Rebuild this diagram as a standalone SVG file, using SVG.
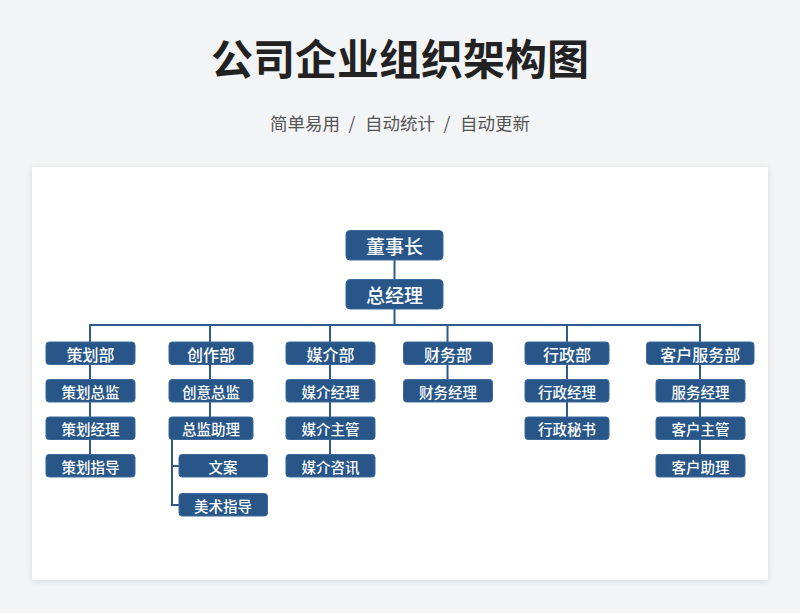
<svg xmlns="http://www.w3.org/2000/svg" width="800" height="613" viewBox="0 0 800 613">
<defs>
<style>
.bg{fill:#f3f4f6}
.card{fill:#ffffff}
.node rect{fill:#285688;stroke:#3d6a9c;stroke-width:1}
.node text{fill:#ffffff;font-family:"Noto Sans CJK SC","Noto Sans",sans-serif;font-weight:500;text-anchor:middle;dominant-baseline:central}
.t1 text{font-size:19px}
.t2 text{font-size:16px}
.t3 text{font-size:14.5px}
.conn{fill:none;stroke:#2e5b8c;stroke-width:2}
.title{font-family:"Noto Sans CJK SC",sans-serif;font-weight:700;font-size:42px;fill:#222222;text-anchor:middle}
.sub{font-family:"Noto Sans CJK SC",sans-serif;font-size:17.5px;fill:#555555;text-anchor:middle}
</style>
<filter id="sh" x="-5%" y="-5%" width="110%" height="110%">
<feGaussianBlur in="SourceAlpha" stdDeviation="3"/>
<feOffset dy="1"/>
<feComponentTransfer><feFuncA type="linear" slope="0.12"/></feComponentTransfer>
<feMerge><feMergeNode/><feMergeNode in="SourceGraphic"/></feMerge>
</filter>
</defs>
<rect class="bg" x="0" y="0" width="800" height="613"/>
<text class="title" x="400" y="75">公司企业组织架构图</text>
<g class="sub">
<text x="305" y="130">简单易用</text>
<text x="352" y="130">/</text>
<text x="400" y="130">自动统计</text>
<text x="447" y="130">/</text>
<text x="495" y="130">自动更新</text>
</g>
<rect class="card" x="32" y="167" width="736" height="413" filter="url(#sh)"/>

<g id="connectors">
<path class="conn" d="M394.5 260V280M394.5 309V325M90 342V325H700V342M210 325V342M330 325V342M447.5 325V342M567 325V342"/>
<path class="conn" d="M90 364V454M210 364V417M330 364V454M447.5 364V379M567 364V417M700 364V454"/>
<path class="conn" d="M172 439V505H179M172 466H179"/>
</g>

<g id="n-dsz" class="node t1"><rect x="346" y="230.5" width="97" height="29.5" rx="4"/><text x="394.5" y="245.5">董事长</text></g>
<g id="n-zjl" class="node t1"><rect x="346" y="279.5" width="97" height="29.5" rx="4"/><text x="394.5" y="294.5">总经理</text></g>

<g id="n-chb" class="node t2"><rect x="46" y="342" width="89" height="22.5" rx="3"/><text x="90.5" y="353.5">策划部</text></g>
<g id="n-czb" class="node t2"><rect x="169" y="342" width="84" height="22.5" rx="3"/><text x="211" y="353.5">创作部</text></g>
<g id="n-mjb" class="node t2"><rect x="286" y="342" width="89" height="22.5" rx="3"/><text x="330.5" y="353.5">媒介部</text></g>
<g id="n-cwb" class="node t2"><rect x="403.5" y="342" width="89" height="22.5" rx="3"/><text x="448" y="353.5">财务部</text></g>
<g id="n-xzb" class="node t2"><rect x="525" y="342" width="84" height="22.5" rx="3"/><text x="567" y="353.5">行政部</text></g>
<g id="n-khfwb" class="node t2"><rect x="646.5" y="342" width="107.5" height="22.5" rx="3"/><text x="700.3" y="353.5">客户服务部</text></g>

<g id="n-chzj" class="node t3"><rect x="46" y="379.5" width="89" height="22.5" rx="3"/><text x="90.5" y="391">策划总监</text></g>
<g id="n-chjl" class="node t3"><rect x="46" y="417" width="89" height="22.5" rx="3"/><text x="90.5" y="428.5">策划经理</text></g>
<g id="n-chzd" class="node t3"><rect x="46" y="454.5" width="89" height="22.5" rx="3"/><text x="90.5" y="466">策划指导</text></g>

<g id="n-cyzj" class="node t3"><rect x="169" y="379.5" width="84" height="22.5" rx="3"/><text x="211" y="391">创意总监</text></g>
<g id="n-zjzl" class="node t3"><rect x="169" y="417" width="84" height="22.5" rx="3"/><text x="211" y="428.5">总监助理</text></g>
<g id="n-wa" class="node t3"><rect x="179" y="454.5" width="88.5" height="22.5" rx="3"/><text x="223" y="466">文案</text></g>
<g id="n-mszd" class="node t3"><rect x="179" y="493.5" width="88.5" height="22.5" rx="3"/><text x="223" y="505">美术指导</text></g>

<g id="n-mjjl" class="node t3"><rect x="286" y="379.5" width="89" height="22.5" rx="3"/><text x="330.5" y="391">媒介经理</text></g>
<g id="n-mjzg" class="node t3"><rect x="286" y="417" width="89" height="22.5" rx="3"/><text x="330.5" y="428.5">媒介主管</text></g>
<g id="n-mjzx" class="node t3"><rect x="286" y="454.5" width="89" height="22.5" rx="3"/><text x="330.5" y="466">媒介咨讯</text></g>

<g id="n-cwjl" class="node t3"><rect x="403.5" y="379.5" width="89" height="22.5" rx="3"/><text x="448" y="391">财务经理</text></g>

<g id="n-xzjl" class="node t3"><rect x="525" y="379.5" width="84" height="22.5" rx="3"/><text x="567" y="391">行政经理</text></g>
<g id="n-xzms" class="node t3"><rect x="525" y="417" width="84" height="22.5" rx="3"/><text x="567" y="428.5">行政秘书</text></g>

<g id="n-fwjl" class="node t3"><rect x="656" y="379.5" width="89" height="22.5" rx="3"/><text x="700.5" y="391">服务经理</text></g>
<g id="n-khzg" class="node t3"><rect x="656" y="417" width="89" height="22.5" rx="3"/><text x="700.5" y="428.5">客户主管</text></g>
<g id="n-khzl" class="node t3"><rect x="656" y="454.5" width="89" height="22.5" rx="3"/><text x="700.5" y="466">客户助理</text></g>
</svg>
